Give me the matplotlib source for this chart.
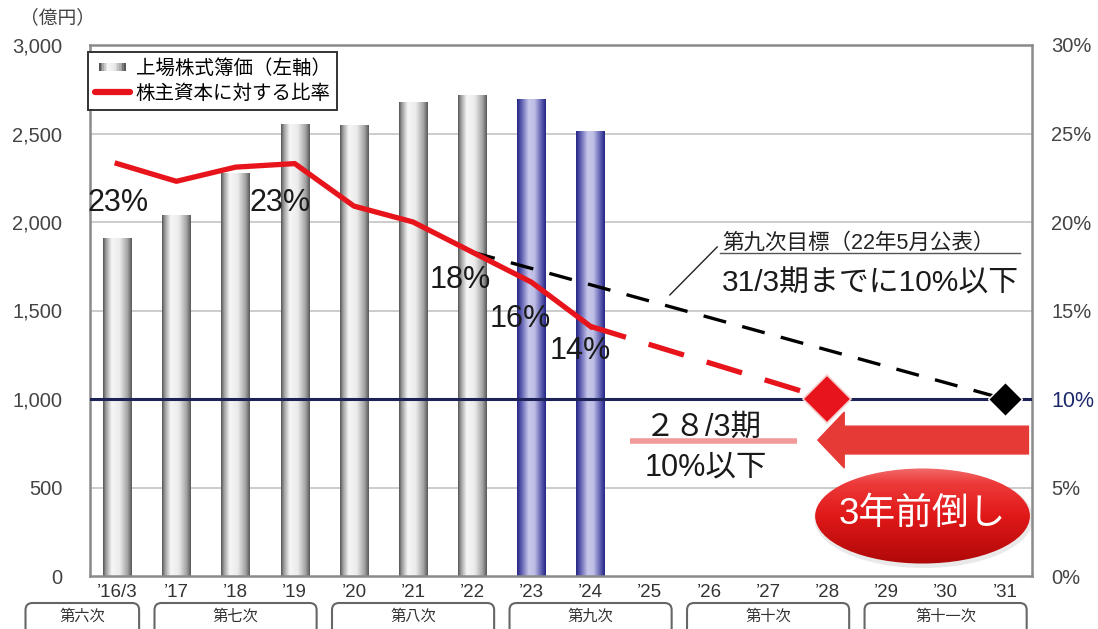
import numpy as np
import matplotlib
matplotlib.use('Agg')
import matplotlib.pyplot as plt
from matplotlib.colors import LinearSegmentedColormap
from matplotlib.patches import Ellipse, FancyBboxPatch, FancyArrowPatch, Rectangle
from matplotlib.lines import Line2D
from matplotlib.legend_handler import HandlerBase

plt.rcParams['font.family'] = ['Liberation Sans', 'Noto Sans CJK JP', 'DejaVu Sans']

# ---------------- data ----------------
years = ["’16/3", "’17", "’18", "’19", "’20", "’21", "’22", "’23", "’24",
         "’25", "’26", "’27", "’28", "’29", "’30", "’31"]
book_value = [1910, 2040, 2275, 2555, 2550, 2680, 2720, 2695, 2515]   # 億円 ('16/3-'24)
ratio = [23.3, 22.3, 23.1, 23.3, 20.9, 20.0, 18.3, 16.6, 14.1]        # % ('16/3-'24)
highlight = [False, False, False, False, False, False, False, True, True]
plan_years = ["’24", "’28"]
plan_ratio = [14.1, 10.0]
target_years = ["’22", "’31"]
target_ratio = [18.3, 10.0]
threshold = 10.0
ratio_labels = ["23%", "23%", "18%", "16%", "14%"]
periods = ["第六次", "第七次", "第八次", "第九次", "第十次", "第十一次"]
period_first = ["’16/3", "’17", "’20", "’23", "’26", "’29"]
period_last = ["’16/3", "’19", "’22", "’25", "’28", "’31"]
left_ticks = [0, 500, 1000, 1500, 2000, 2500, 3000]
right_ticks = [0, 5, 10, 15, 20, 25, 30]

# ---------------- layout ----------------
W, H = 1098, 629
fig = plt.figure(figsize=(W / 100, H / 100), dpi=100)
ax = fig.add_axes([90 / W, 53 / H, 942 / W, 531 / H])
ax2 = ax.twinx()

idx = {y: i for i, y in enumerate(years)}
xi = np.arange(len(book_value))

gray_cmap = LinearSegmentedColormap.from_list('g', [
    (0.0, '#555555'), (0.1, '#9c9c9c'), (0.3, '#f6f6f6'), (0.58, '#ebebeb'),
    (0.85, '#a4a4a4'), (1.0, '#585858')])
blue_cmap = LinearSegmentedColormap.from_list('b', [
    (0.0, '#252585'), (0.15, '#5c5cb0'), (0.4, '#c6c6ea'), (0.6, '#c0c0e6'),
    (0.85, '#5c5cb0'), (1.0, '#252585')])

# gridlines
for t in left_ticks[1:-1]:
    ax.axhline(t, color='#c4c4c4', lw=1.2, zorder=0)

bars = ax.bar(xi, book_value, width=0.48, color='none', edgecolor='none', zorder=2)
grad = np.linspace(0, 1, 200)[None, :]
for b, hl in zip(bars, highlight):
    im = ax.imshow(grad, extent=[b.get_x(), b.get_x() + b.get_width(), 0, b.get_height()],
                   aspect='auto', cmap=blue_cmap if hl else gray_cmap, zorder=2,
                   interpolation='bilinear')
    im.set_clip_path(b)

ax.set_xlim(-0.46, 15.46)
ax.set_ylim(0, 3000)
ax.set_xticks(range(len(years)))
ax.set_xticklabels(years, fontsize=13.5, color='#333333')
ax.set_yticks(left_ticks)
ax.set_yticklabels([f"{v:,}" for v in left_ticks], fontsize=14.5, color='#444444')
ax.tick_params(axis='both', length=0)
ax.tick_params(axis='y', pad=20)
ax.tick_params(axis='x', pad=6)
for s in ax.spines.values():
    s.set_color('#8a8a8a')
    s.set_linewidth(1.8)
for s in ax2.spines.values():
    s.set_visible(False)

# right axis
ax2.set_ylim(0, 30)
ax2.set_yticks(right_ticks)
ax2.set_yticklabels([f"{v}%" for v in right_ticks], fontsize=14.5, color='#444444')
ax2.tick_params(axis='y', length=0, pad=14)
for lab, v in zip(ax2.get_yticklabels(), right_ticks):
    if v == threshold:
        lab.set_color('#1d2a6e')
        lab.set_fontsize(15.5)

ax2.axhline(threshold, color='#1d2358', lw=2.2, zorder=3)

# ratio lines
ax2.plot(xi, ratio, color='#e8141c', lw=3.8, zorder=5, solid_joinstyle='round')
ax2.plot([idx[y] for y in plan_years], plan_ratio, color='#e8141c', lw=3.8,
         dashes=(7, 4.5), zorder=5)
ax2.plot([idx[plan_years[-1]]], [plan_ratio[-1]], marker='D', ms=24, color='#e8141c',
         mec='#f6d0d0', mew=1.2, zorder=6)
ax2.plot([idx[y] for y in target_years], target_ratio, color='black', lw=2.4,
         dashes=(7, 5), zorder=4)
ax2.plot([idx[target_years[-1]]], [target_ratio[-1]], marker='D', ms=17, color='black',
         mec='white', mew=1, zorder=6)

# percent labels
lab_x = [0.02, 2.75, 5.79, 6.81, 7.82]
lab_y = [21.1, 21.1, 16.7, 14.5, 12.7]
for t, x, y in zip(ratio_labels, lab_x, lab_y):
    ax2.text(x, y, t, fontsize=22, ha='center', va='center', color='#1a1a1a', zorder=7)

# target annotation
ax.text(10.22, 1881, "第九次目標（22年5月公表）", fontsize=15.5, ha='left', va='center',
        color='#222222', zorder=7)
ax.plot([10.19, 15.25], [1826, 1826], color='#555555', lw=1.0, zorder=7)
ax.text(10.22, 1655, "31/3期までに10%以下", fontsize=21.5, ha='left', va='center',
        color='#1a1a1a', zorder=7)
ax.plot([10.14, 9.34], [1859, 1588], color='#222222', lw=1.0, zorder=7)

# 28/3 annotation
ax.plot([8.67, 11.49], [765, 765], color='#f29a9a', lw=4, zorder=6, solid_capstyle='butt')
ax.text(8.92, 838, "２８/3期", fontsize=22, ha='left', va='center', color='#1a1a1a', zorder=7)
ax.text(8.92, 612, "10%以下", fontsize=22, ha='left', va='center', color='#1a1a1a', zorder=7)

arrow = FancyArrowPatch((15.40, 768), (11.84, 768),
                        arrowstyle="simple,head_length=0.95,head_width=2.0,tail_width=1.0",
                        mutation_scale=20, color='#e63a36', shrinkA=0, shrinkB=0, zorder=6)
ax.add_patch(arrow)

# ellipse badge
shadow = Ellipse((13.63, 325), 3.7, 560, facecolor='#888888', alpha=0.18, edgecolor='none', zorder=5)
ax.add_patch(shadow)
ell = Ellipse((13.61, 339), 3.63, 537, facecolor='none', edgecolor='none', zorder=6)
ax.add_patch(ell)
vg = np.linspace(0, 1, 100)[:, None]
ell_cmap = LinearSegmentedColormap.from_list('e', [(0, '#b00808'), (0.5, '#e01818'),
                                                   (0.85, '#ee3a3a'), (1, '#f26a6a')])
eim = ax.imshow(vg, extent=[13.61 - 1.82, 13.61 + 1.82, 339 - 270, 339 + 270], origin='lower',
                aspect='auto', cmap=ell_cmap, zorder=6, interpolation='bilinear')
eim.set_clip_path(ell)
ax.text(13.61, 345, "3年前倒し", fontsize=26.5, ha='center', va='center', color='white', zorder=8)

ax.set_xlim(-0.46, 15.46)
ax.set_ylim(0, 3000)

# unit label
fig.text(20 / W, 1 - 18 / H, "（億円）", fontsize=13.5, ha='left', va='center', color='#444444')


# legend
class GradHandler(HandlerBase):
    def create_artists(self, legend, orig_handle, xdescent, ydescent, width, height, fontsize, trans):
        arts = []
        n = 16
        for k in range(n):
            c = gray_cmap(k / (n - 1))
            r = Rectangle((-xdescent + width * (0.12 + 0.76 * k / n), -ydescent + height * 0.2),
                          width * 0.76 / n + 0.3, height * 0.6, facecolor=c, edgecolor='none',
                          transform=trans)
            arts.append(r)
        return arts


h_bar = Rectangle((0, 0), 1, 1)
h_line = Line2D([], [], color='#e8141c', lw=4.5, solid_capstyle='round')
leg = ax.legend([h_bar, h_line], ["上場株式簿価（左軸）", "株主資本に対する比率"],
                handler_map={Rectangle: GradHandler()}, loc='upper left',
                bbox_to_anchor=(88 / W, 1 - 52 / H), bbox_transform=fig.transFigure,
                borderaxespad=0, fontsize=14, handlelength=1.8, handletextpad=0.3,
                labelspacing=0.35, borderpad=0.35, fancybox=False, framealpha=1,
                edgecolor='#333333')
leg.get_frame().set_linewidth(1.4)
leg.set_zorder(10)

# period boxes (in inches, isotropic)
def data_x_to_in(x):
    return ax.transData.transform((x, 0))[0] / fig.dpi

for name, f, l in zip(periods, period_first, period_last):
    x0 = idx[f] - 0.37 if name != periods[0] else -1.55
    x1 = idx[l] + 0.37
    xa, xb = data_x_to_in(x0), data_x_to_in(x1)
    top = (H - 603) / 100
    box = FancyBboxPatch((xa, -0.3), xb - xa, top + 0.3,
                         boxstyle="round,pad=0,rounding_size=0.07",
                         transform=fig.dpi_scale_trans, facecolor='white',
                         edgecolor='#666666', lw=1.5, clip_on=False)
    fig.patches.append(box)
    fig.text((xa + xb) / 2 * 100 / W, (H - 617) / H, name, fontsize=11, ha='center',
             va='center', color='#333333')

fig.savefig('out.png', dpi=100)
